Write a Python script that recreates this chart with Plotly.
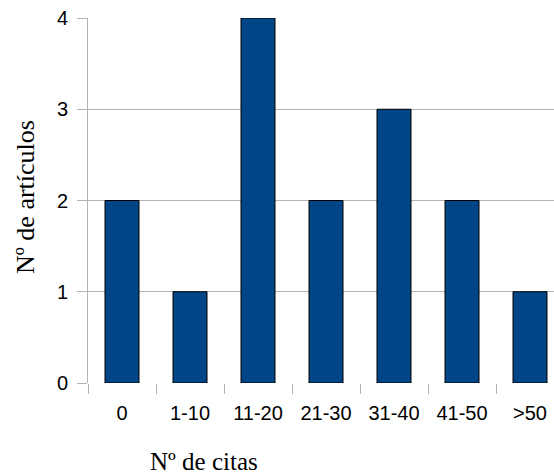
import plotly.graph_objects as go

categories = ["0", "1-10", "11-20", "21-30", "31-40", "41-50", ">50"]
articulos = [2, 1, 4, 2, 3, 2, 1]
y_ticks = [0, 1, 2, 3, 4]

fig = go.Figure()
fig.add_trace(go.Bar(
    x=categories, y=articulos, width=0.5,
    marker=dict(color="#004586", line=dict(color="#000000", width=1)),
))

W, H = 554, 474
L, R, T, B = 88, 0, 18, 91
fig.update_layout(
    width=W, height=H,
    margin=dict(l=L, r=R, t=T, b=B, autoexpand=False),
    plot_bgcolor="white", paper_bgcolor="white",
    showlegend=False,
    font=dict(family="Liberation Sans, Arial, sans-serif", size=20, color="#000000"),
)
fig.update_xaxes(
    type="category", range=[-0.5, 6.353],
    showgrid=False, zeroline=False, showline=False,
    ticks="outside", ticklen=10, tickcolor="#b3b3b3", tickwidth=1,
    tickson="boundaries", ticklabelstandoff=16,
    tickfont=dict(size=20),
)
fig.update_yaxes(
    range=[0, 4], tickvals=y_ticks,
    showgrid=True, gridcolor="#b3b3b3", gridwidth=1,
    zeroline=False, showline=True, linecolor="#b3b3b3", linewidth=1,
    ticks="outside", ticklen=10, tickcolor="#b3b3b3", tickwidth=1,
    ticklabelstandoff=5,
    tickfont=dict(size=20),
)
fig.add_annotation(
    text="Nº de artículos", xref="paper", yref="paper",
    x=(25 - L) / (W - L - R), y=(H - B - 197) / (H - T - B),
    xanchor="center", yanchor="middle",
    textangle=-90, showarrow=False,
    font=dict(family="Liberation Serif, Times New Roman, serif", size=26, color="#000000"),
)
fig.add_annotation(
    text="Nº de citas", xref="paper", yref="paper",
    x=(204 - L) / (W - L - R), y=(H - B - 462) / (H - T - B),
    xanchor="center", yanchor="middle",
    showarrow=False,
    font=dict(family="Liberation Serif, Times New Roman, serif", size=25, color="#000000"),
)
fig.write_html(
    "out.html",
    config={"displayModeBar": False},
    post_script="document.body.style.margin='0px';document.body.style.overflow='hidden';",
)
